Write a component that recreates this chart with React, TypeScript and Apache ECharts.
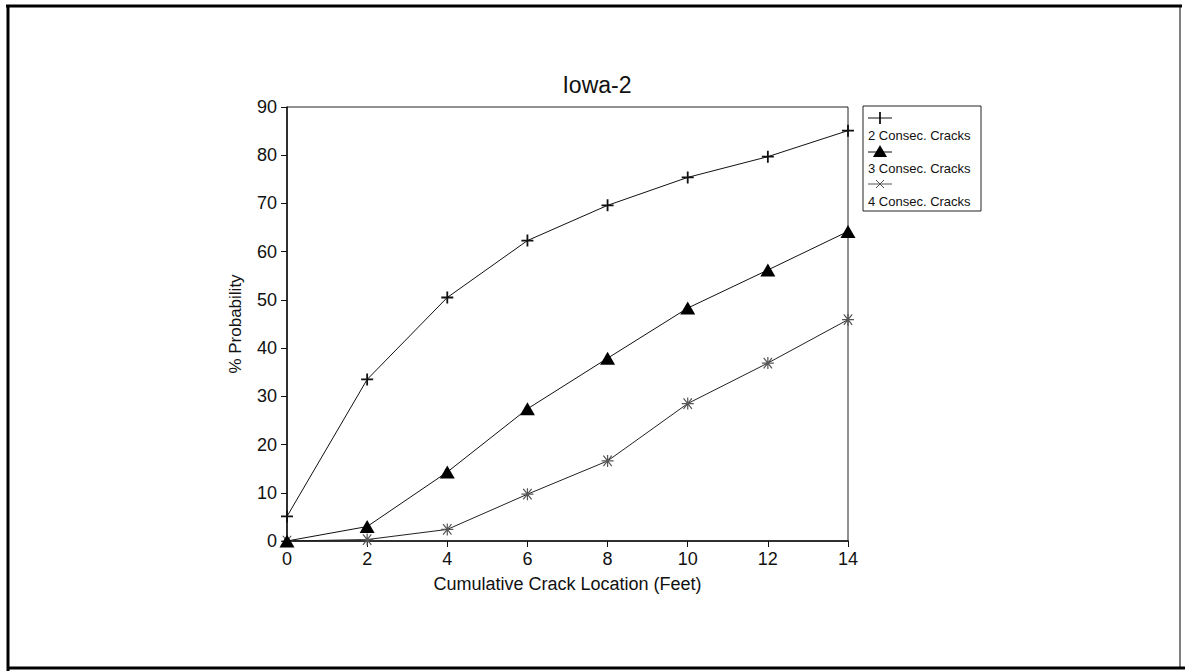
import React, { useEffect, useRef } from "react";
import * as echarts from "echarts";

const xValues = [0, 2, 4, 6, 8, 10, 12, 14];
const twoConsec = [5.1, 33.5, 50.5, 62.3, 69.6, 75.4, 79.7, 85.1];
const threeConsec = [0, 3.0, 14.3, 27.4, 37.9, 48.3, 56.2, 64.2];
const fourConsec = [0, 0.3, 2.4, 9.7, 16.6, 28.5, 36.9, 45.9];
const seriesNames = ["2 Consec. Cracks", "3 Consec. Cracks", "4 Consec. Cracks"];

const FONT = "Liberation Sans";
const PLUS = "path://M0,5L10,5M5,0L5,10";
const STAR = "path://M0,5L10,5M1.5,1.5L8.5,8.5M1.5,8.5L8.5,1.5M5,1L5,9";

export default function App() {
  const ref = useRef<HTMLDivElement>(null);
  useEffect(() => {
    if (!ref.current) return;
    const chart = echarts.init(ref.current, null, { renderer: "svg" });
    const pairs = (ys: number[]) => xValues.map((x, i) => [x, ys[i]]);
    chart.setOption({
      animation: false,
      backgroundColor: "#fff",
      title: {
        text: "Iowa-2",
        left: 592,
        top: 68,
        textAlign: "center",
        textStyle: { fontFamily: FONT, fontSize: 23, fontWeight: "normal", color: "#111" },
      },
      grid: {
        left: 287,
        right: 1185 - 848,
        top: 107,
        bottom: 671 - 541,
        show: true,
        borderColor: "#222",
        borderWidth: 1,
      },
      xAxis: {
        type: "value",
        min: 0,
        max: 14,
        interval: 2,
        name: "Cumulative Crack Location (Feet)",
        nameLocation: "middle",
        nameGap: 34,
        nameTextStyle: { fontFamily: FONT, fontSize: 18, color: "#111" },
        axisLine: { lineStyle: { color: "#111", width: 1.5 } },
        axisTick: { show: true, length: 6, lineStyle: { color: "#111" } },
        axisLabel: { fontFamily: FONT, fontSize: 18, color: "#111", margin: 9 },
        splitLine: { show: false },
      },
      yAxis: {
        type: "value",
        min: 0,
        max: 90,
        interval: 10,
        name: "% Probability",
        nameLocation: "middle",
        nameGap: 43,
        nameTextStyle: { fontFamily: FONT, fontSize: 17, color: "#111" },
        axisLine: { lineStyle: { color: "#111", width: 1.5 } },
        axisTick: { show: true, length: 6, lineStyle: { color: "#111" } },
        axisLabel: { fontFamily: FONT, fontSize: 18, color: "#111", margin: 10 },
        splitLine: { show: false },
      },
      series: [
        {
          name: seriesNames[0],
          type: "line",
          data: pairs(twoConsec),
          symbol: PLUS,
          symbolSize: 12,
          showAllSymbol: true,
          lineStyle: { color: "#111", width: 1 },
          itemStyle: { color: "transparent", borderColor: "#111", borderWidth: 1.8 },
          z: 3,
        },
        {
          name: seriesNames[1],
          type: "line",
          data: pairs(threeConsec),
          symbol: "triangle",
          symbolSize: [15, 13],
          showAllSymbol: true,
          lineStyle: { color: "#111", width: 1 },
          itemStyle: { color: "#000", borderColor: "#000", borderWidth: 0 },
          z: 4,
        },
        {
          name: seriesNames[2],
          type: "line",
          data: pairs(fourConsec),
          symbol: STAR,
          symbolSize: 12,
          showAllSymbol: true,
          lineStyle: { color: "#222", width: 1 },
          itemStyle: { color: "transparent", borderColor: "#555", borderWidth: 1.2 },
          z: 2,
        },
      ],
      graphic: [
        // outer frame
        { type: "line", shape: { x1: 6, y1: 6, x2: 1182, y2: 6 }, style: { stroke: "#000", lineWidth: 3 } },
        { type: "line", shape: { x1: 8, y1: 5, x2: 8, y2: 671 }, style: { stroke: "#000", lineWidth: 3 } },
        { type: "line", shape: { x1: 1180, y1: 6, x2: 1180, y2: 668 }, style: { stroke: "#000", lineWidth: 1 } },
        { type: "line", shape: { x1: 8, y1: 668, x2: 1185, y2: 668 }, style: { stroke: "#000", lineWidth: 3 } },
        // legend box
        { type: "rect", shape: { x: 863, y: 106, width: 118, height: 105 }, style: { fill: "#fff", stroke: "#222", lineWidth: 1 }, z: 10 },
        // item 1 icon (+)
        { type: "line", shape: { x1: 868, y1: 118, x2: 892, y2: 118 }, style: { stroke: "#111", lineWidth: 1 }, z: 11 },
        { type: "line", shape: { x1: 880, y1: 112, x2: 880, y2: 124 }, style: { stroke: "#111", lineWidth: 1.8 }, z: 11 },
        { type: "text", style: { x: 868, y: 135, text: seriesNames[0], fontFamily: FONT, fontSize: 13, fill: "#111", verticalAlign: "middle" }, z: 11 },
        // item 2 icon (triangle)
        { type: "line", shape: { x1: 868, y1: 152, x2: 892, y2: 152 }, style: { stroke: "#111", lineWidth: 1 }, z: 11 },
        { type: "polygon", shape: { points: [[880, 145], [887, 157], [873, 157]] }, style: { fill: "#000" }, z: 11 },
        { type: "text", style: { x: 868, y: 168, text: seriesNames[1], fontFamily: FONT, fontSize: 13, fill: "#111", verticalAlign: "middle" }, z: 11 },
        // item 3 icon (asterisk)
        { type: "line", shape: { x1: 868, y1: 184, x2: 892, y2: 184 }, style: { stroke: "#555", lineWidth: 1 }, z: 11 },
        { type: "line", shape: { x1: 876, y1: 180, x2: 884, y2: 188 }, style: { stroke: "#555", lineWidth: 1 }, z: 11 },
        { type: "line", shape: { x1: 876, y1: 188, x2: 884, y2: 180 }, style: { stroke: "#555", lineWidth: 1 }, z: 11 },
        { type: "text", style: { x: 868, y: 201, text: seriesNames[2], fontFamily: FONT, fontSize: 13, fill: "#111", verticalAlign: "middle" }, z: 11 },
      ],
    });
    return () => chart.dispose();
  }, []);
  return <div ref={ref} style={{ width: 1185, height: 671, position: "absolute", left: 0, top: 0 }} />;
}
